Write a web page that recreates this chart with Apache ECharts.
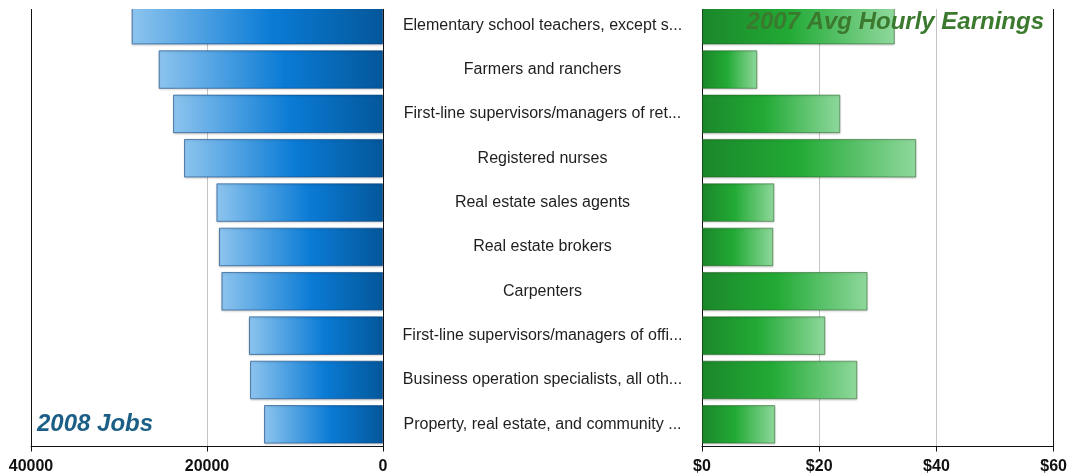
<!DOCTYPE html>
<html>
<head>
<meta charset="utf-8">
<script src="https://cdn.jsdelivr.net/npm/echarts@6/dist/echarts.min.js"></script>
<style>
  html, body { margin: 0; padding: 0; background: #fff; }
  #chart { width: 1070px; height: 476px; }
</style>
</head>
<body>
<div id="chart"></div>
<script>
// Occupations, top to bottom
const occupations = [
  'Elementary school teachers, except s...',
  'Farmers and ranchers',
  'First-line supervisors/managers of ret...',
  'Registered nurses',
  'Real estate sales agents',
  'Real estate brokers',
  'Carpenters',
  'First-line supervisors/managers of offi...',
  'Business operation specialists, all oth...',
  'Property, real estate, and community ...'
];

// 2008 jobs per occupation
const jobs2008 = [28560, 25490, 23860, 22610, 18930, 18640, 18360, 15230, 15110, 13520];

// 2007 average hourly earnings, dollars
const hourly2007 = [32.9, 9.44, 23.6, 36.55, 12.34, 12.17, 28.25, 21.04, 26.5, 12.5];

// Axis extents and tick steps
const jobsAxis = { min: 0, max: 40000, step: 20000 };
const wageAxis = { min: 0, max: 60, step: 20 };

const FONT = '"Liberation Sans", Arial, Helvetica, sans-serif';
const AXIS_BLACK = '#111';
const GRID_GRAY = '#c4c4c4';

const chart = echarts.init(document.getElementById('chart'), null, { renderer: 'canvas' });

const tickLabel = {
  fontFamily: FONT, fontSize: 16, fontWeight: 'bold', color: '#111', margin: 12
};

const blueFill = new echarts.graphic.LinearGradient(0, 0, 1, 0, [
  { offset: 0, color: '#8dc4ee' },
  { offset: 0.56, color: '#0a7bd5' },
  { offset: 1, color: '#04579a' }
]);
const greenFill = new echarts.graphic.LinearGradient(0, 0, 1, 0, [
  { offset: 0, color: '#1b872a' },
  { offset: 0.45, color: '#22aa35' },
  { offset: 1, color: '#8fd89c' }
]);

const edgeLine = (show) => ({ show: show, lineStyle: { color: AXIS_BLACK, width: 1 } });

const option = {
  animation: false,
  backgroundColor: '#fff',
  title: [
    {
      text: '2008 Jobs',
      left: 32, top: 407,
      textStyle: { fontFamily: FONT, fontSize: 24, fontWeight: 'bold', fontStyle: 'italic', color: '#1b5f86' }
    },
    {
      text: '2007 Avg Hourly Earnings',
      right: 21, top: 5,
      textStyle: { fontFamily: FONT, fontSize: 24, fontWeight: 'bold', fontStyle: 'italic', color: '#3b7a2e' }
    }
  ],
  grid: [
    { left: 31, right: 687, top: 3, bottom: 29.5, containLabel: false },
    { left: 702, right: 16, top: 3, bottom: 29.5, containLabel: false }
  ],
  xAxis: [
    {
      type: 'value', gridIndex: 0, inverse: true,
      min: jobsAxis.min, max: jobsAxis.max, interval: jobsAxis.step,
      axisLine: edgeLine(true),
      axisTick: { show: true, length: 5, lineStyle: { color: AXIS_BLACK } },
      axisLabel: Object.assign({}, tickLabel, { formatter: (v) => String(v) }),
      splitLine: { show: true, lineStyle: { color: GRID_GRAY, width: 1 } }
    },
    {
      type: 'value', gridIndex: 1,
      min: wageAxis.min, max: wageAxis.max, interval: wageAxis.step,
      axisLine: edgeLine(true),
      axisTick: { show: true, length: 5, lineStyle: { color: AXIS_BLACK } },
      axisLabel: Object.assign({}, tickLabel, { formatter: (v) => '$' + v }),
      splitLine: { show: true, lineStyle: { color: GRID_GRAY, width: 1 } }
    }
  ],
  yAxis: [
    {
      type: 'category', gridIndex: 0, position: 'right', inverse: true,
      data: occupations,
      axisLine: edgeLine(true), axisTick: { show: false },
      axisLabel: {
        fontFamily: FONT, fontSize: 16, color: '#1e1e1e',
        align: 'center', margin: 159.5
      }
    },
    {
      type: 'category', gridIndex: 0, position: 'left', inverse: true,
      data: occupations,
      axisLine: edgeLine(true), axisTick: { show: false }, axisLabel: { show: false }
    },
    {
      type: 'category', gridIndex: 1, position: 'left', inverse: true,
      data: occupations,
      axisLine: edgeLine(true), axisTick: { show: false }, axisLabel: { show: false }
    },
    {
      type: 'category', gridIndex: 1, position: 'right', inverse: true,
      data: occupations,
      axisLine: edgeLine(true), axisTick: { show: false }, axisLabel: { show: false }
    }
  ],
  series: [
    {
      name: '2008 Jobs', type: 'bar',
      xAxisIndex: 0, yAxisIndex: 0,
      data: jobs2008,
      barCategoryGap: '13%',
      itemStyle: {
        color: blueFill,
        borderColor: 'rgba(15,70,130,0.6)', borderWidth: 1,
        shadowColor: 'rgba(0,0,0,0.18)', shadowBlur: 2, shadowOffsetY: 1
      }
    },
    {
      name: '2007 Avg Hourly Earnings', type: 'bar',
      xAxisIndex: 1, yAxisIndex: 2,
      data: hourly2007,
      barCategoryGap: '13%',
      itemStyle: {
        color: greenFill,
        borderColor: 'rgba(30,90,30,0.5)', borderWidth: 1,
        shadowColor: 'rgba(0,0,0,0.18)', shadowBlur: 2, shadowOffsetY: 1
      }
    }
  ],
  graphic: [
    {
      type: 'rect', z: 50, silent: true,
      shape: { x: 0, y: 0, width: 1070, height: 9 },
      style: { fill: '#fff' }
    }
  ]
};

chart.setOption(option);
</script>
</body>
</html>
